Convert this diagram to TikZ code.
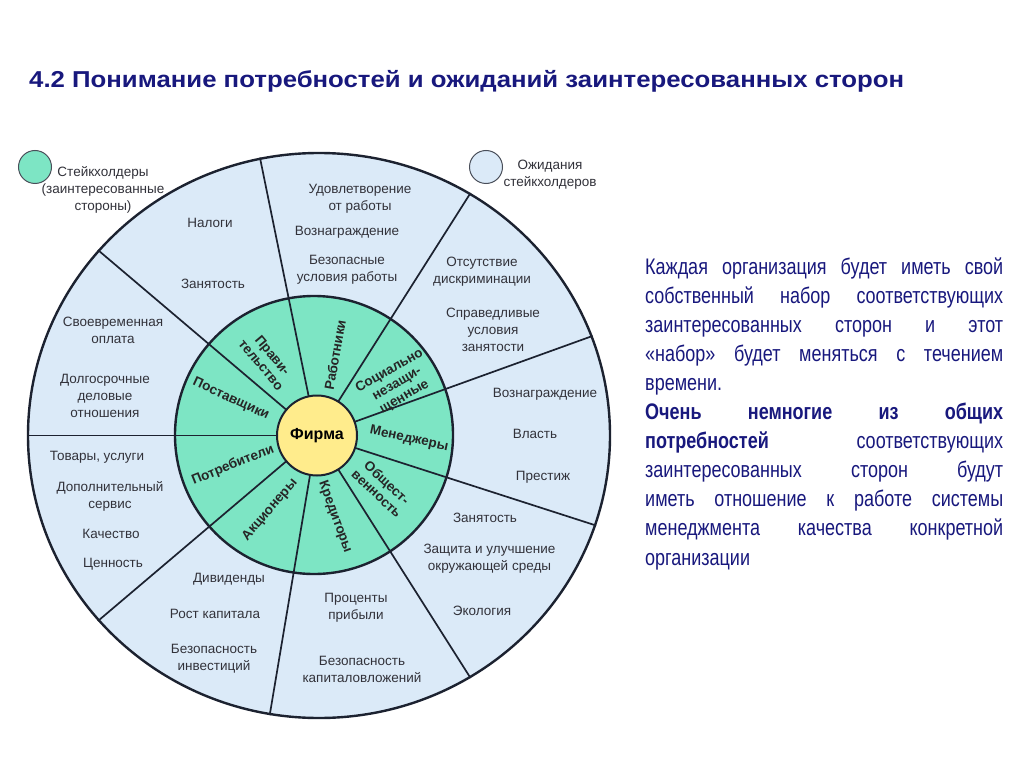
\documentclass[tikz,border=0pt]{standalone}
\usepackage{fontspec}
\setmainfont{Liberation Sans}
\newfontfamily\titlefont[FakeStretch=1.12]{Liberation Sans}
\newfontfamily\parafont[FakeStretch=0.8]{Liberation Sans}
\usetikzlibrary{shapes.geometric}
\definecolor{skyfill}{RGB}{219,234,248}
\definecolor{ringgreen}{RGB}{125,229,196}
\definecolor{firmyellow}{RGB}{255,236,140}
\definecolor{linecol}{RGB}{28,34,48}
\definecolor{navy}{RGB}{24,24,125}
\definecolor{labelgray}{RGB}{50,50,58}
\begin{document}
\begin{tikzpicture}[x=1pt,y=-1pt,
  exp/.style={font=\fontsize{13.5}{17}\selectfont, text=labelgray, align=center, inner sep=0pt},
  grp/.style={font=\bfseries\fontsize{13.5}{15}\selectfont, text=black!85, align=center, inner sep=0pt},
  legendtxt/.style={font=\fontsize{13.5}{17}\selectfont, text=labelgray, align=center, inner sep=0pt},
  spoke/.style={draw=linecol, line width=1.7pt}]
\useasboundingbox[fill=white] (0,0) rectangle (1024,767);

% title
\node[anchor=base west, inner sep=0pt, text=navy, font=\titlefont\bfseries\fontsize{23}{23}\selectfont] (title) at (29,88) {4.2 Понимание потребностей и ожиданий заинтересованных сторон};

% wheel
\node[ellipse, draw=linecol, line width=2.4pt, fill=skyfill, minimum width=582pt, minimum height=565pt, inner sep=0pt] (outer) at (319,435.5) {};
\node[circle, draw=linecol, line width=2.4pt, fill=ringgreen, minimum size=278pt, inner sep=0pt] (ring) at (314,435) {};
\node[circle, minimum size=80pt, inner sep=0pt] (firmshape) at (317,435.5) {};
\foreach \a in {102.6,58.3,20.5,-18.7,-58.8,-100,-140.4,180.5,140}
  \draw[spoke] (firmshape.\a) -- (outer.\a);
\node[circle, draw=linecol, line width=2pt, fill=firmyellow, minimum size=80pt, inner sep=0pt, font=\bfseries\fontsize{16}{16}\selectfont] (firm) at (317,435.5) {Фирма};

% stakeholder groups
\node[grp, rotate=-50] (gov) at (267,360) {Прави-\\тельство};
\node[grp, rotate=80] (work) at (335,355) {Работники};
\node[grp, rotate=30] (soc) at (397,384) {Социально\\незащи-\\щенные};
\node[grp, rotate=-12] (man) at (409,439) {Менеджеры};
\node[grp, rotate=-43] (pub) at (382,488) {Общест-\\венность};
\node[grp, rotate=-70] (cred) at (335,517) {Кредиторы};
\node[grp, rotate=49] (share) at (270,510) {Акционеры};
\node[grp, rotate=22] (cons) at (233,465) {Потребители};
\node[grp, rotate=-25] (supp) at (231,399) {Поставщики};

% expectations
\node[exp] (e1) at (210,223) {Налоги};
\node[exp] (e2) at (213,284) {Занятость};
\node[exp] (e3) at (360,199) {Удовлетворение\\от работы};
\node[exp] (e4) at (347,232) {Вознаграждение};
\node[exp] (e5) at (347,270) {Безопасные\\условия работы};
\node[exp] (e6) at (482,271.5) {Отсутствие\\дискриминации};
\node[exp] (e7) at (493,330) {Справедливые\\условия\\занятости};
\node[exp] (e8) at (545,394) {Вознаграждение};
\node[exp] (e9) at (535,434) {Власть};
\node[exp] (e10) at (543,477) {Престиж};
\node[exp] (e11) at (485,518) {Занятость};
\node[exp] (e12) at (489.5,559) {Защита и улучшение\\окружающей среды};
\node[exp] (e13) at (482,611) {Экология};
\node[exp] (e14) at (356,608) {Проценты\\прибыли};
\node[exp] (e15) at (362,669) {Безопасность\\капиталовложений};
\node[exp] (e16) at (229,579) {Дивиденды};
\node[exp] (e17) at (215,614) {Рост капитала};
\node[exp] (e18) at (214,659) {Безопасность\\инвестиций};
\node[exp] (e19) at (97,457) {Товары, услуги};
\node[exp] (e20) at (110,496.5) {Дополнительный\\сервис};
\node[exp] (e21) at (111,534) {Качество};
\node[exp] (e22) at (113,564) {Ценность};
\node[exp] (e23) at (113,330.5) {Своевременная\\оплата};
\node[exp] (e24) at (105,396) {Долгосрочные\\деловые\\отношения};

% legend
\node[circle, draw=linecol!80, line width=1pt, fill=ringgreen, minimum size=33pt, inner sep=0pt] (lg1) at (35,167) {};
\node[legendtxt] (lt1) at (103,190) {Стейкхолдеры\\(заинтересованные\\стороны)};
\node[circle, draw=linecol!80, line width=1pt, fill=skyfill, minimum size=33pt, inner sep=0pt] (lg2) at (486,167) {};
\node[legendtxt] (lt2) at (550,175) {Ожидания\\стейкхолдеров};

% paragraph
\node[anchor=base west, inner sep=0pt, text width=358pt, align=justify, text=navy,
  font=\parafont\fontsize{22.5}{29.1}\selectfont] (para) at (645,274)
{\hyphenpenalty=10000\exhyphenpenalty=10000
Каждая организация будет иметь свой\linebreak
собственный набор соответствующих\linebreak
заинтересованных сторон и этот\linebreak
«набор» будет меняться с течением\linebreak
времени.\par
\textbf{Очень немногие из общих\linebreak
потребностей} соответствующих\linebreak
заинтересованных сторон будут\linebreak
иметь отношение к работе системы\linebreak
менеджмента качества конкретной\linebreak
организации\par};
\end{tikzpicture}
\end{document}
